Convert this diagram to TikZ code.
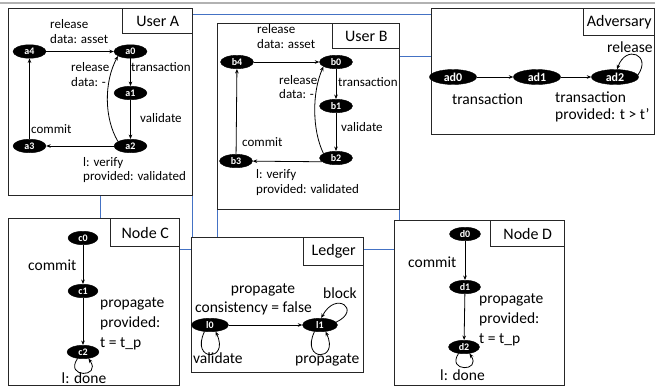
\documentclass[tikz,border=0pt]{standalone}
\usepackage{fontspec}
\setmainfont{Carlito}
\usetikzlibrary{shapes.geometric,arrows.meta}
\definecolor{conblue}{HTML}{4472C4}
\definecolor{boxgray}{HTML}{262626}
\tikzset{
 box/.style={draw=boxgray, line width=1.4pt, inner sep=0pt, anchor=north west},
 titlebox/.style={draw=boxgray, line width=1.3pt, inner sep=0pt, anchor=north east, font=\fontsize{16}{18}\selectfont},
 st/.style={ellipse, fill=black, draw=black, inner sep=0pt, minimum width=33pt, minimum height=13.5pt, text=white, font=\fontsize{10}{10}\selectfont\bfseries},
 stbig/.style={st, minimum width=47pt, minimum height=15pt, font=\fontsize{12}{13}\selectfont\bfseries},
 tr/.style={-{Stealth[length=4.5pt,width=3.6pt]}, line width=0.8pt},
 lu/.style={anchor=base west, inner sep=0pt, font=\fontsize{13}{15}\selectfont},
 lb/.style={anchor=base west, inner sep=0pt, font=\fontsize{15.5}{18}\selectfont},
 link/.style={draw=conblue, line width=1pt},
}
\begin{document}
\begin{tikzpicture}[x=1pt,y=-1pt]
\useasboundingbox (0,0) rectangle (655,386);
\draw[gray!60, line width=1.2pt] (0,3) -- (655,3);

% boxes
\node[box, minimum width=184pt, minimum height=187pt] (userA) at (8,8) {};
\node[box, minimum width=182pt, minimum height=186pt] (userB) at (217,23) {};
\node[box, minimum width=223pt, minimum height=126pt] (adv) at (431,8) {};
\node[box, minimum width=171pt, minimum height=167pt] (nodeC) at (8,218) {};
\node[box, minimum width=172pt, minimum height=135pt] (ledger) at (191,237) {};
\node[box, minimum width=170pt, minimum height=165pt] (nodeD) at (394,220) {};

\node[titlebox, minimum width=70pt, minimum height=25pt] (tA) at (userA.north east) {User A};
\node[titlebox, minimum width=67pt, minimum height=25pt] (tB) at (userB.north east) {User B};
\node[titlebox, minimum width=71pt, minimum height=27pt] (tAdv) at (adv.north east) {Adversary};
\node[titlebox, minimum width=69pt, minimum height=28pt] (tC) at (nodeC.north east) {Node C};
\node[titlebox, minimum width=60pt, minimum height=28pt] (tL) at (ledger.north east) {Ledger};
\node[titlebox, minimum width=74pt, minimum height=26pt] (tD) at (nodeD.north east) {Node D};

% blue links
\coordinate (y14) at (0,14);
\coordinate (y56) at (0,56);
\coordinate (y249) at (0,249);
\draw[link] (userA.east |- y14) -- (adv.west |- y14);
\draw[link] (userB.east |- y56) -- (adv.west |- y56);
\draw[link] (userA.south) -- (userA.south |- nodeC.north);
\draw[link] ([xshift=-1pt]userA.south east) -- ([xshift=-1pt]userA.south east |- ledger.north);
\draw[link] (userB.south west) -- (userB.south west |- ledger.north);
\draw[link] ([xshift=-1pt]userB.south east) -- ([xshift=-1pt]userB.south east |- nodeD.north);
\draw[link] (nodeC.east |- y249) -- (ledger.west |- y249);
\draw[link] (ledger.east |- y249) -- (nodeD.west |- y249);

% User A
\node[st] (a4) at (29.5,51.5) {a4};
\node[st] (a0) at (130.5,51.5) {a0};
\node[st] (a1) at (130.5,93) {a1};
\node[st] (a2) at (130.5,146) {a2};
\node[st] (a3) at (29.5,146) {a3};
\draw[tr] (a4) -- (a0);
\draw[tr] (a0) -- (a1);
\draw[tr] (a1) -- (a2);
\draw[tr] (a2.160) .. controls (104,118) and (104,82) .. (a0.200);
\draw[tr] (a2) -- (a3);
\draw[tr] (a3) -- (a4);
\node[lu] (la1) at (50,28) {release};
\node[lu] (la2) at (50,43) {data: asset};
\node[lu] (la3) at (131,71) {transaction};
\node[lu] (la4) at (71,71) {release};
\node[lu] (la5) at (71,86) {data: -};
\node[lu] (la6) at (140,122) {validate};
\node[lu] (la7) at (31,133) {commit};
\node[lu] (la8) at (83,166) {l: verify};
\node[lu] (la9) at (83,180) {provided: validated};

% User B
\node[st] (b4) at (237,62) {b4};
\node[st] (b0) at (336,62) {b0};
\node[st] (b1) at (336,106) {b1};
\node[st] (b2) at (336,158) {b2};
\node[st] (b3) at (236,161) {b3};
\draw[tr] (b4) -- (b0);
\draw[tr] (b0) -- (b1);
\draw[tr] (b1) -- (b2);
\draw[tr] (b2.160) .. controls (312,130) and (312,92) .. (b0.200);
\draw[tr] (b2.195) -- (b3);
\draw[tr] (b3) -- (b4);
\node[lu] (lb1) at (257,33) {release};
\node[lu] (lb2) at (257,48) {data: asset};
\node[lu] (lb3) at (338,86) {transaction};
\node[lu] (lb4) at (279,84) {release};
\node[lu] (lb5) at (279,98) {data: -};
\node[lu] (lb6) at (341,131) {validate};
\node[lu] (lb7) at (242,146) {commit};
\node[lu] (lb8) at (256,178) {l: verify};
\node[lu] (lb9) at (256,193) {provided: validated};

% Adversary
\node[stbig] (ad0) at (453,77) {ad0};
\node[stbig] (ad1) at (537,77) {ad1};
\node[stbig] (ad2) at (615,77) {ad2};
\draw[tr] (ad0) -- (ad1);
\draw[tr] (ad1) -- (ad2);
\draw[tr] (ad2.5) .. controls (652,55) and (626,44) .. (ad2.75);
\node[lb] (lad1) at (607,52) {release};
\node[lb] (lad2) at (452,104) {transaction};
\node[lb] (lad3) at (555,102) {transaction};
\node[lb] (lad4) at (555,119) {provided: t > t’};

% Node C
\node[st, minimum width=30pt] (c0) at (83,238) {c0};
\node[st, minimum width=30pt] (c1) at (83,291) {c1};
\node[st, minimum width=32pt] (c2) at (83,352) {c2};
\draw[tr] (c0) -- (c1);
\draw[tr] (c1) -- (c2);
\draw[tr] (c2.230) .. controls (64,378) and (102,378) .. (c2.310);
\node[lb] (lc1) at (28,270) {commit};
\node[lb] (lc2) at (100,307) {propagate};
\node[lb] (lc3) at (100,327) {provided:};
\node[lb] (lc4) at (100,347) {t = t\_p};
\node[lb, anchor=base] (lc5) at (84,383) {l: done};

% Ledger
\node[st, minimum width=37pt] (l0) at (210,325) {l0};
\node[st, minimum width=35pt] (l1) at (320,325) {l1};
\draw[tr] (l0) -- (l1);
\draw[tr] (l0.230) .. controls (190,362) and (230,362) .. (l0.310);
\draw[tr] (l1.230) .. controls (300,362) and (340,362) .. (l1.310);
\draw[tr] (l1.10) .. controls (362,310) and (336,290) .. (l1.80);
\node[lb, anchor=base] (ll1) at (263,293) {propagate};
\node[lb] (ll2) at (195,312) {consistency = false};
\node[lb] (ll3) at (323,298) {block};
\node[lb] (ll4) at (193,363) {validate};
\node[lb] (ll5) at (295,363) {propagate};

% Node D
\node[st, minimum width=31pt] (d0) at (465,234) {d0};
\node[st, minimum width=31pt] (d1) at (465,287) {d1};
\node[st, minimum width=31pt] (d2) at (464,347) {d2};
\draw[tr] (d0) -- (d1);
\draw[tr] (d1) -- (d2);
\draw[tr] (d2.230) .. controls (446,372) and (482,372) .. (d2.310);
\node[lb] (ld1) at (408,267) {commit};
\node[lb] (ld2) at (479,303) {propagate};
\node[lb] (ld3) at (479,323) {provided:};
\node[lb] (ld4) at (479,343) {t = t\_p};
\node[lb] (ld5) at (440,380) {l: done};
\end{tikzpicture}
\end{document}
